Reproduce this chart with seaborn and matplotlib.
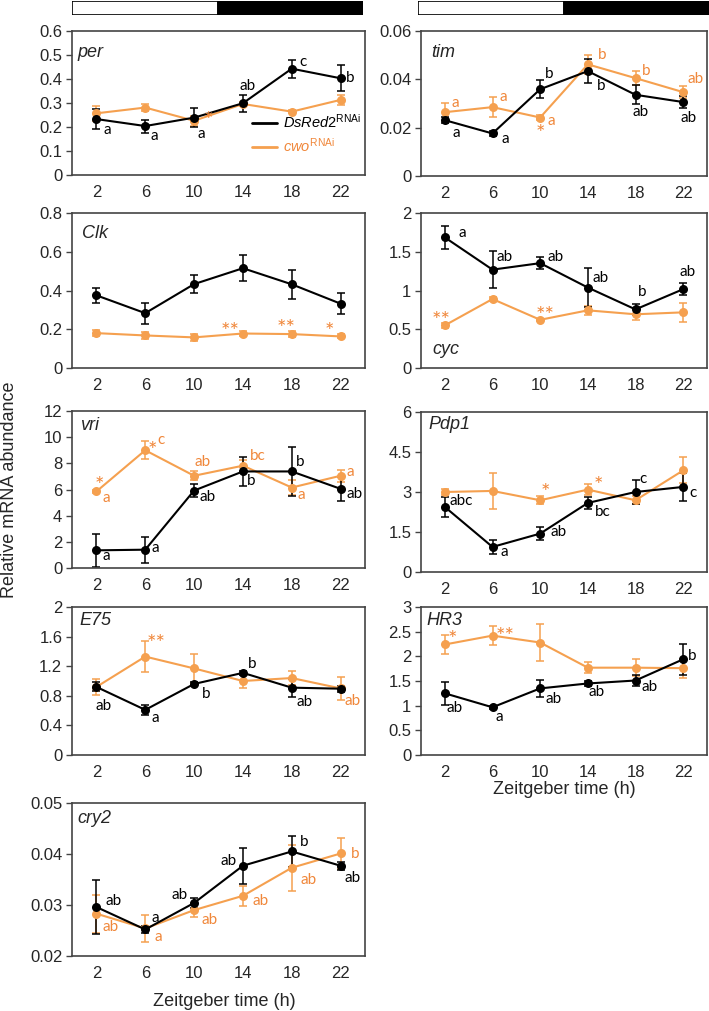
import matplotlib
matplotlib.use('Agg')
import matplotlib.pyplot as plt
from matplotlib.lines import Line2D
import seaborn as sns
import pandas as pd

# time points (h)
zt = [2, 6, 10, 14, 18, 22]

# means / SEM: ds = DsRed2 RNAi, cwo = cwo RNAi
per_ds = [0.233, 0.204, 0.239, 0.299, 0.443, 0.403]
per_ds_err = [0.040, 0.027, 0.039, 0.035, 0.038, 0.055]
per_cwo = [0.257, 0.281, 0.226, 0.296, 0.264, 0.313]
per_cwo_err = [0.030, 0.015, 0.020, 0.010, 0.005, 0.020]

tim_ds = [0.0231, 0.0176, 0.0359, 0.0434, 0.0336, 0.0306]
tim_ds_err = [0.0012, 0.0010, 0.0037, 0.0050, 0.0040, 0.0024]
tim_cwo = [0.0264, 0.0285, 0.0242, 0.0462, 0.0405, 0.0347]
tim_cwo_err = [0.0038, 0.0040, 0.0010, 0.0040, 0.0030, 0.0024]

clk_ds = [0.375, 0.283, 0.433, 0.515, 0.432, 0.332]
clk_ds_err = [0.038, 0.054, 0.047, 0.066, 0.075, 0.053]
clk_cwo = [0.180, 0.168, 0.158, 0.178, 0.175, 0.163]
clk_cwo_err = [0.015, 0.017, 0.017, 0.013, 0.017, 0.010]

cyc_ds = [1.685, 1.269, 1.353, 1.038, 0.756, 1.017]
cyc_ds_err = [0.153, 0.237, 0.078, 0.250, 0.070, 0.078]
cyc_cwo = [0.550, 0.890, 0.622, 0.744, 0.693, 0.718]
cyc_cwo_err = [0.030, 0.030, 0.010, 0.060, 0.070, 0.126]

vri_ds = [1.35, 1.40, 5.92, 7.38, 7.38, 6.05]
vri_ds_err = [1.25, 1.00, 0.50, 1.10, 1.90, 0.90]
vri_cwo = [5.85, 9.00, 7.05, 7.82, 6.15, 7.05]
vri_cwo_err = [0.15, 0.70, 0.35, 0.40, 0.55, 0.45]

pdp1_ds = [2.44, 0.94, 1.44, 2.59, 3.00, 3.19]
pdp1_ds_err = [0.37, 0.27, 0.25, 0.24, 0.44, 0.52]
pdp1_cwo = [3.00, 3.04, 2.69, 3.09, 2.69, 3.81]
pdp1_cwo_err = [0.10, 0.67, 0.15, 0.22, 0.15, 0.49]

e75_ds = [0.92, 0.61, 0.96, 1.11, 0.91, 0.896]
e75_ds_err = [0.06, 0.07, 0.02, 0.03, 0.12, 0.04]
e75_cwo = [0.92, 1.33, 1.17, 1.00, 1.04, 0.90]
e75_cwo_err = [0.11, 0.21, 0.20, 0.10, 0.09, 0.15]

hr3_ds = [1.25, 0.967, 1.35, 1.45, 1.51, 1.94]
hr3_ds_err = [0.23, 0.03, 0.17, 0.05, 0.12, 0.31]
hr3_cwo = [2.24, 2.42, 2.28, 1.77, 1.77, 1.76]
hr3_cwo_err = [0.19, 0.19, 0.37, 0.11, 0.17, 0.19]

cry2_ds = [0.0296, 0.0252, 0.0304, 0.0377, 0.0405, 0.0377]
cry2_ds_err = [0.0053, 0.0006, 0.0010, 0.0035, 0.0030, 0.0008]
cry2_cwo = [0.0283, 0.0254, 0.0290, 0.0318, 0.0373, 0.0401]
cry2_cwo_err = [0.0037, 0.0026, 0.0014, 0.0020, 0.0045, 0.0030]

# significance letters / stars per time point
per_ds_sig = [['a'], ['a'], ['a'], ['ab'], ['c'], ['b']]
per_cwo_sig = [[], [], ['*'], [], [], []]
tim_ds_sig = [['a'], ['a'], ['b'], ['b'], ['ab'], ['ab']]
tim_cwo_sig = [['a'], ['a'], ['a', '*'], ['b'], ['b'], ['ab']]
clk_ds_sig = [[], [], [], [], [], []]
clk_cwo_sig = [[], [], [], ['**'], ['**'], ['*']]
cyc_ds_sig = [['a'], ['ab'], ['ab'], ['ab'], ['b'], ['ab']]
cyc_cwo_sig = [['**'], [], ['**'], [], [], []]
vri_ds_sig = [['a'], ['a'], ['ab'], ['b'], ['b'], ['ab']]
vri_cwo_sig = [['*', 'a'], ['*', 'c'], ['ab'], ['bc'], ['a'], ['a']]
pdp1_ds_sig = [['abc'], ['a'], ['ab'], ['bc'], ['c'], ['c']]
pdp1_cwo_sig = [[], [], ['*'], ['*'], [], []]
e75_ds_sig = [['ab'], ['a'], ['b'], ['b'], ['ab'], []]
e75_cwo_sig = [[], ['**'], [], [], [], ['ab']]
hr3_ds_sig = [['ab'], ['a'], ['ab'], ['ab'], ['ab'], ['b']]
hr3_cwo_sig = [['*'], ['**'], [], [], [], []]
cry2_ds_sig = [['ab'], ['a'], ['ab'], ['ab'], ['b'], ['ab']]
cry2_cwo_sig = [['ab'], ['a'], ['ab'], ['ab'], ['ab'], ['b']]

# label offsets (pixels) matching the sig lists above
offs = {
    'per': ([[(11, -11)], [(9, -10)], [(7, -16)], [(5, 17)], [(11, 7)], [(10, 0)]],
            [[], [], [(14, 6)], [], [], []]),
    'tim': ([[(11, -13)], [(13, -6)], [(9, 15)], [(13, -15)], [(5, -17)], [(5, -16)]],
            [[(10, 9)], [(11, 10)], [(11, -3), (0, -10)], [(14, 9)], [(11, 7)], [(12, 13)]]),
    'Clk': ([[], [], [], [], [], []],
            [[], [], [], [(-13, 8)], [(-6, 11)], [(-11, 10)]]),
    'cyc': ([[(17, 4)], [(12, 13)], [(15, 6)], [(13, 10)], [(7, 17)], [(4, 17)]],
            [[(-4, 10)], [], [(5, 10)], [], [], []]),
    'vri': ([[(10, -6)], [(10, 2)], [(13, -6)], [(8, -10)], [(8, 9)], [(14, -5)]],
            [[(3, 11), (10, -7)], [(7, 5), (16, 10)], [(8, 14)], [(15, 10)], [(10, -7)], [(10, 4)]]),
    'Pdp1': ([[(16, 6)], [(12, -5)], [(18, 2)], [(15, -9)], [(8, 13)], [(10, -6)]],
             [[], [], [(5, 13)], [(11, 10)], [], []]),
    'E75': ([[(7, -19)], [(10, -8)], [(12, -10)], [(9, 9)], [(13, -14)], []],
            [[], [(11, 19)], [], [], [], [(12, -13)]]),
    'HR3': ([[(10, -15)], [(7, -10)], [(13, -11)], [(9, -9)], [(14, -6)], [(9, 3)]],
            [[(8, 10)], [(13, 5)], [], [], [], []]),
    'cry2': ([[(17, 6)], [(10, 11)], [(-15, 8)], [(-14, 5)], [(12, 9)], [(12, -12)]],
             [[(14, -13)], [(13, -9)], [(15, -10)], [(18, -5)], [(17, -12)], [(15, -1)]]),
}

W, H = 709, 1011
BLACK = '#000000'
ORANGE = '#F5A04F'
ORANGE_TXT = '#F0873A'

sns.set_style('ticks')
plt.rcParams['font.family'] = ['Liberation Sans', 'DejaVu Sans']
plt.rcParams['mathtext.fontset'] = 'custom'
plt.rcParams['mathtext.rm'] = 'Liberation Sans'
plt.rcParams['mathtext.it'] = 'Liberation Sans:italic'

fig = plt.figure(figsize=(W / 100, H / 100), dpi=100)


def px_axes(l, t, r, b):
    return fig.add_axes([l / W, 1 - b / H, (r - l) / W, (b - t) / H])


panels = [
    ('per', per_ds, per_ds_err, per_cwo, per_cwo_err, per_ds_sig, per_cwo_sig,
     (0, 0.6), [0, 0.1, 0.2, 0.3, 0.4, 0.5, 0.6], (72, 31, 365, 175), (0.02, 0.85)),
    ('tim', tim_ds, tim_ds_err, tim_cwo, tim_cwo_err, tim_ds_sig, tim_cwo_sig,
     (0, 0.06), [0, 0.02, 0.04, 0.06], (421, 31, 707, 176), (0.035, 0.85)),
    ('Clk', clk_ds, clk_ds_err, clk_cwo, clk_cwo_err, clk_ds_sig, clk_cwo_sig,
     (0, 0.8), [0, 0.2, 0.4, 0.6, 0.8], (72, 213, 365, 368), (0.034, 0.87)),
    ('cyc', cyc_ds, cyc_ds_err, cyc_cwo, cyc_cwo_err, cyc_ds_sig, cyc_cwo_sig,
     (0, 2), [0, 0.5, 1, 1.5, 2], (421, 213, 707, 368), (0.04, 0.12)),
    ('vri', vri_ds, vri_ds_err, vri_cwo, vri_cwo_err, vri_ds_sig, vri_cwo_sig,
     (0, 12), [0, 2, 4, 6, 8, 10, 12], (72, 411, 365, 568), (0.027, 0.91)),
    ('Pdp1', pdp1_ds, pdp1_ds_err, pdp1_cwo, pdp1_cwo_err, pdp1_ds_sig, pdp1_cwo_sig,
     (0, 6), [0, 1.5, 3, 4.5, 6], (421, 412, 707, 572), (0.025, 0.92)),
    ('E75', e75_ds, e75_ds_err, e75_cwo, e75_cwo_err, e75_ds_sig, e75_cwo_sig,
     (0, 2), [0, 0.4, 0.8, 1.2, 1.6, 2], (72, 607, 365, 755), (0.027, 0.91)),
    ('HR3', hr3_ds, hr3_ds_err, hr3_cwo, hr3_cwo_err, hr3_ds_sig, hr3_cwo_sig,
     (0, 3), [0, 0.5, 1, 1.5, 2, 2.5, 3], (421, 607, 707, 755), (0.02, 0.91)),
    ('cry2', cry2_ds, cry2_ds_err, cry2_cwo, cry2_cwo_err, cry2_ds_sig, cry2_cwo_sig,
     (0.02, 0.05), [0.02, 0.03, 0.04, 0.05], (72, 803, 365, 956), (0.02, 0.9)),
]

axes = {}
for gene, ds, ds_e, cw, cw_e, ds_sig, cw_sig, ylim, yt, pos, lab in panels:
    ax = px_axes(*pos)
    axes[gene] = ax
    df = pd.DataFrame({
        'zt': zt + zt,
        'val': cw + ds,
        'err': cw_e + ds_e,
        'geno': ['cwo'] * 6 + ['ds'] * 6,
    })
    for g, col in [('cwo', ORANGE), ('ds', BLACK)]:
        sub = df[df.geno == g]
        ax.errorbar(sub.zt, sub.val, yerr=sub.err, fmt='none', ecolor=col,
                    elinewidth=1.1, capsize=3, capthick=1.1, zorder=2)
    sns.lineplot(data=df, x='zt', y='val', hue='geno', hue_order=['cwo', 'ds'],
                 palette={'cwo': ORANGE, 'ds': BLACK}, marker='o', markersize=6.5,
                 markeredgewidth=0, linewidth=1.5, errorbar=None, legend=False,
                 ax=ax, zorder=3)

    for sig, vals, off, col in [(cw_sig, cw, offs[gene][1], ORANGE_TXT),
                                (ds_sig, ds, offs[gene][0], BLACK)]:
        for i in range(6):
            for txt, (dx, dy) in zip(sig[i], off[i]):
                star = '*' in txt
                ax.annotate(txt, (zt[i], vals[i]), xytext=(dx, dy - (6 if star else 0)),
                            textcoords='offset pixels', ha='center', va='center',
                            color=col, fontsize=16 if star else 11,
                            family='Lato', zorder=4)

    ax.set_xlim(0, 24)
    ax.set_ylim(*ylim)
    ax.set_xticks(zt)
    ax.set_yticks(yt)
    ax.set_yticklabels([f'{v:g}' for v in yt])
    ax.tick_params(axis='x', length=0, pad=7, labelsize=12)
    ax.tick_params(axis='y', length=4, width=1, pad=3, labelsize=12, color='#444444')
    ax.set_xlabel('')
    ax.set_ylabel('')
    for s in ax.spines.values():
        s.set_visible(True)
        s.set_color('#444444')
        s.set_linewidth(1.2)
    ax.text(lab[0], lab[1], gene, transform=ax.transAxes, style='italic',
            fontsize=13, ha='left', va='center')

# legend in the per panel
handles = [Line2D([], [], color=BLACK, lw=2), Line2D([], [], color=ORANGE, lw=2)]
leg = axes['per'].legend(handles, [r'$\mathit{DsRed2}^{\mathrm{RNAi}}$', r'$\mathit{cwo}^{\mathrm{RNAi}}$'],
                         loc='lower left', bbox_to_anchor=(0.57, 0.05), frameon=False,
                         fontsize=10.5, handlelength=1.7, handletextpad=0.4, labelspacing=0.4,
                         labelcolor=[BLACK, ORANGE_TXT])

# light / dark bars above the top panels
light_dark = [12, 12]
for l, r in [(72, 363), (418, 709)]:
    bax = px_axes(l, 1, r, 15)
    bax.barh([0], [light_dark[0]], left=0, height=1, color='white', edgecolor='black', lw=1.2)
    bax.barh([0], [light_dark[1]], left=light_dark[0], height=1, color='black', edgecolor='black', lw=1.2)
    bax.set_xlim(0, sum(light_dark))
    bax.set_ylim(-0.5, 0.5)
    bax.axis('off')

fig.text(224 / W, 1 - 1002 / H, 'Zeitgeber time (h)', ha='center', va='center', fontsize=13)
fig.text(564 / W, 1 - 790 / H, 'Zeitgeber time (h)', ha='center', va='center', fontsize=13)
fig.text(10 / W, 1 - 490 / H, 'Relative mRNA abundance', rotation=90,
         ha='center', va='center', fontsize=13)

fig.savefig('out.png', dpi=100)
